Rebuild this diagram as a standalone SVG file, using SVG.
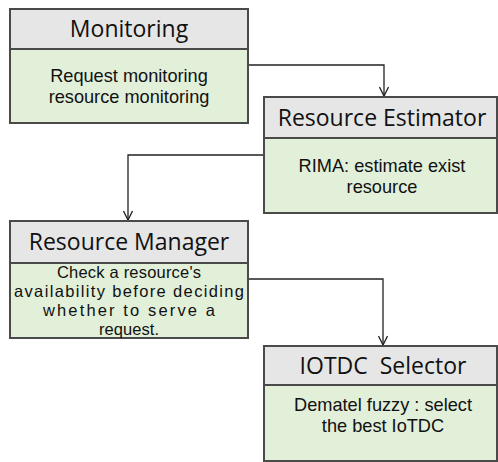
<svg xmlns="http://www.w3.org/2000/svg" width="498" height="462" viewBox="0 0 498 462">
<defs>
<marker id="arr" markerWidth="12" markerHeight="10" refX="10" refY="5" orient="auto" markerUnits="userSpaceOnUse">
<path d="M1,0.5 L10,5 L1,9.5" fill="none" stroke="#222" stroke-width="1.3"/>
</marker>
</defs>
<style>
.hd{fill:#e6e6e6;stroke:#4a4a4a;stroke-width:2}
.bd{fill:#e2efd9;stroke:#4a4a4a;stroke-width:2}
.t{font-family:"Open Sans","Liberation Sans",sans-serif;font-size:23px;fill:#111;text-anchor:middle}
.b{font-family:"Liberation Sans",Arial,sans-serif;font-size:18.2px;fill:#111;text-anchor:middle}
.m{font-size:16.5px}
.c{fill:none;stroke:#222;stroke-width:1.3}
</style>
<g id="connectors">
<path class="c" d="M248,65 H384 V96" marker-end="url(#arr)"/>
<path class="c" d="M263,155 H128 V220" marker-end="url(#arr)"/>
<path class="c" d="M248,279 H383 V345" marker-end="url(#arr)"/>
</g>
<g id="monitoring">
<rect class="bd" x="10" y="49" width="238" height="74"/>
<rect class="hd" x="10" y="9" width="238" height="40"/>
<text class="t" x="129" y="37">Monitoring</text>
<text class="b" x="129" y="82">Request monitoring</text>
<text class="b" x="129" y="103">resource monitoring</text>
</g>
<g id="estimator">
<rect class="bd" x="264" y="138" width="233" height="75"/>
<rect class="hd" x="264" y="97" width="233" height="41"/>
<text class="t" x="382" y="126">Resource Estimator</text>
<text class="b" x="382" y="172">RIMA: estimate exist</text>
<text class="b" x="382" y="193">resource</text>
</g>
<g id="manager">
<rect class="bd" x="10" y="263" width="238" height="75"/>
<rect class="hd" x="10" y="221" width="238" height="42"/>
<text class="t" x="129" y="250">Resource Manager</text>
<text class="b m" x="129" y="278" textLength="144" lengthAdjust="spacing">Check a resource's</text>
<text class="b m" x="129" y="297" textLength="230" lengthAdjust="spacing">availability before deciding</text>
<text class="b m" x="129" y="316" textLength="172" lengthAdjust="spacing">whether to serve a</text>
<text class="b m" x="129" y="335" textLength="60" lengthAdjust="spacing">request.</text>
</g>
<g id="selector">
<rect class="bd" x="264" y="385" width="233" height="76"/>
<rect class="hd" x="264" y="346" width="233" height="39"/>
<text class="t" x="383" y="374" xml:space="preserve">IOTDC  Selector</text>
<text class="b" x="383" y="411">Dematel fuzzy : select</text>
<text class="b" x="383" y="432">the best IoTDC</text>
</g>
</svg>
